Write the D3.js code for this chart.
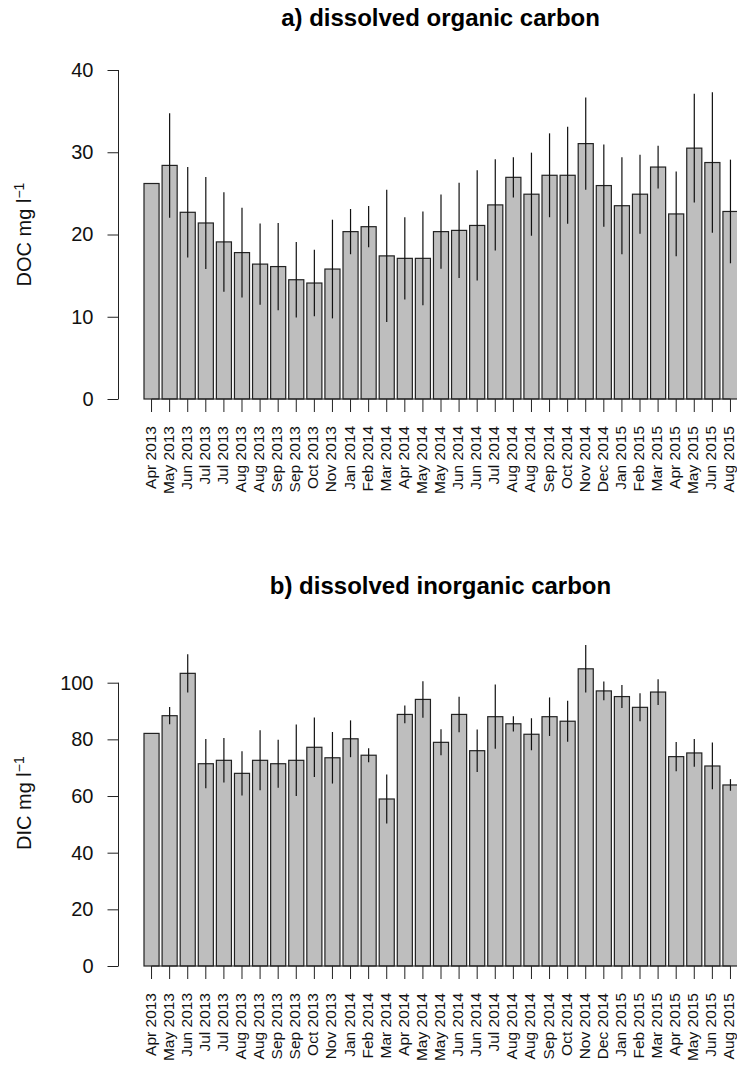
<!DOCTYPE html>
<html>
<head>
<meta charset="utf-8">
<script src="https://cdn.jsdelivr.net/npm/d3@7"></script>
<style>
  body { margin: 0; background: #fff; }
</style>
</head>
<body>
<div id="chart"></div>
<script>
// sampling months (some months sampled twice)
const months = [
  "Apr 2013", "May 2013", "Jun 2013", "Jul 2013", "Jul 2013", "Aug 2013", "Aug 2013",
  "Sep 2013", "Sep 2013", "Oct 2013", "Nov 2013", "Jan 2014", "Feb 2014", "Mar 2014",
  "Apr 2014", "May 2014", "May 2014", "Jun 2014", "Jun 2014", "Jul 2014", "Aug 2014",
  "Aug 2014", "Sep 2014", "Oct 2014", "Nov 2014", "Dec 2014", "Jan 2015", "Feb 2015",
  "Mar 2015", "Apr 2015", "May 2015", "Jun 2015", "Aug 2015"
];

// a) DOC, mg/l (mean and sd)
const docMean = [
  26.2, 28.4, 22.7, 21.4, 19.1, 17.8, 16.4, 16.1, 14.5, 14.1, 15.8, 20.35, 20.95, 17.4,
  17.1, 17.1, 20.35, 20.5, 21.1, 23.6, 26.95, 24.9, 27.2, 27.2, 31.05, 25.95, 23.5, 24.9,
  28.2, 22.5, 30.5, 28.75, 22.8
];
const docSd = [
  null, 6.35, 5.5, 5.6, 6.05, 5.45, 4.95, 5.3, 4.6, 4.05, 6.0, 2.75, 2.5, 8.05,
  5.0, 5.7, 4.5, 5.8, 6.7, 5.55, 2.45, 5.05, 5.1, 5.9, 5.6, 5.0, 5.9, 4.8,
  2.6, 5.15, 6.6, 8.55, 6.3
];

// b) DIC, mg/l (mean and sd)
const dicMean = [
  82.1, 88.35, 103.3, 71.4, 72.6, 68.0, 72.6, 71.4, 72.6, 77.2, 73.5, 80.2, 74.4, 58.95,
  88.8, 94.1, 78.95, 88.8, 76.0, 88.0, 85.5, 81.8, 88.0, 86.4, 104.9, 97.1, 95.1, 91.3,
  96.7, 73.9, 75.2, 70.6, 63.9
];
const dicSd = [
  null, 3.05, 6.75, 8.7, 7.85, 7.8, 10.6, 8.5, 12.6, 10.5, 9.1, 6.5, 2.5, 8.65,
  3.15, 6.45, 4.6, 6.25, 7.5, 11.35, 2.7, 5.65, 6.8, 7.25, 8.4, 3.3, 4.05, 4.95,
  4.55, 5.15, 4.9, 8.25, 2.05
];

const docTicks = [0, 10, 20, 30, 40];
const dicTicks = [0, 20, 40, 60, 80, 100];

const width = 737;
const height = 1068;
const font = "'Liberation Sans', Arial, Helvetica, sans-serif";

const svg = d3.select("#chart").append("svg")
    .attr("width", width)
    .attr("height", height)
    .style("font-family", font);

const x = d3.scaleBand()
    .domain(d3.range(months.length))
    .range([144, 738])
    .paddingInner(0.2 / 1.2)
    .paddingOuter(0);

const axisX = 118.5;
const plotLeft = 120, plotRight = 761;

function panel({title, titleY, label, means, sds, ticks, yMax, y0, yTop}) {
  const y = d3.scaleLinear().domain([0, yMax]).range([y0, yTop]);
  const rows = means.map((m, i) => ({i, m, sd: sds[i]}));
  const g = svg.append("g");

  g.append("text")
      .attr("x", (plotLeft + plotRight) / 2)
      .attr("y", titleY)
      .attr("text-anchor", "middle")
      .style("font-size", "24px")
      .style("font-weight", "bold")
      .text(title);

  g.append("g").selectAll("rect")
    .data(rows)
    .join("rect")
      .attr("x", d => x(d.i))
      .attr("y", d => y(d.m))
      .attr("width", x.bandwidth())
      .attr("height", d => y(0) - y(d.m))
      .attr("fill", "#bebebe")
      .attr("stroke", "#222")
      .attr("stroke-width", 1.2);

  g.append("g").selectAll("line")
    .data(rows.filter(d => d.sd != null))
    .join("line")
      .attr("x1", d => x(d.i) + x.bandwidth() / 2)
      .attr("x2", d => x(d.i) + x.bandwidth() / 2)
      .attr("y1", d => y(d.m - d.sd))
      .attr("y2", d => y(d.m + d.sd))
      .attr("stroke", "#111")
      .attr("stroke-width", 1.2);

  // y axis, R style: line only from first to last tick
  const ya = g.append("g")
      .attr("transform", `translate(${axisX},0)`)
      .call(d3.axisLeft(y).tickValues(ticks).tickSize(11).tickPadding(14));
  ya.select(".domain").remove();
  ya.append("line")
      .attr("y1", y(ticks[0]))
      .attr("y2", y(ticks[ticks.length - 1]))
      .attr("stroke", "#222");
  ya.selectAll(".tick line").attr("stroke", "#222");
  ya.selectAll("text")
      .attr("fill", "#111")
      .style("font-size", "20px")
      .style("font-family", font);

  // x axis with rotated month labels
  const xa = g.append("g")
      .attr("transform", `translate(0,${y(0)})`)
      .call(d3.axisBottom(x).tickFormat(i => months[i]).tickSize(13));
  xa.select(".domain").remove();
  xa.append("line")
      .attr("x1", x(0) + x.bandwidth() / 2)
      .attr("x2", x(months.length - 1) + x.bandwidth() / 2)
      .attr("stroke", "#222");
  xa.selectAll(".tick line").attr("stroke", "#222");
  xa.selectAll("text")
      .attr("x", -27)
      .attr("y", 0)
      .attr("dy", "0.26em")
      .attr("transform", "rotate(-90)")
      .attr("text-anchor", "end")
      .attr("fill", "#111")
      .style("font-size", "15.5px")
      .style("font-family", font);

  const lab = g.append("text")
      .attr("transform", `translate(31,${(y0 + yTop) / 2}) rotate(-90)`)
      .attr("text-anchor", "middle")
      .attr("fill", "#111")
      .style("font-size", "20px");
  lab.append("tspan").text(label + " mg l");
  lab.append("tspan")
      .attr("dy", "-0.5em")
      .style("font-size", "14px")
      .text("\u22121");
}

panel({
  title: "a) dissolved organic carbon",
  titleY: 26,
  label: "DOC",
  means: docMean,
  sds: docSd,
  ticks: docTicks,
  yMax: 40,
  y0: 399,
  yTop: 70
});

panel({
  title: "b) dissolved inorganic carbon",
  titleY: 594,
  label: "DIC",
  means: dicMean,
  sds: dicSd,
  ticks: dicTicks,
  yMax: 115,
  y0: 966,
  yTop: 640.2
});
</script>
</body>
</html>
